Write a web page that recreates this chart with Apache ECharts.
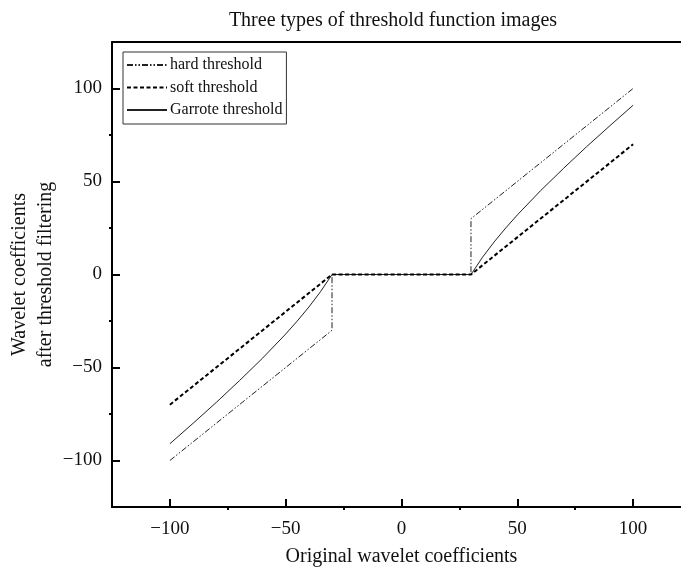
<!DOCTYPE html>
<html>
<head>
<meta charset="utf-8">
<script src="https://cdn.jsdelivr.net/npm/echarts@6/dist/echarts.min.js"></script>
<style>
  html, body { margin: 0; padding: 0; background: #fff; }
  #chart { width: 681px; height: 567px; }
</style>
</head>
<body>
<div id="chart"></div>
<script>
// Threshold functions with threshold 30
const hardX = [-100, -30, -30, 30, 30, 100];
const hardY = [-100, -30, 0, 0, 30, 100];

const softX = [-100, -30, 30, 100];
const softY = [-70, 0, 0, 70];

const garroteX = [-100, -90, -80, -70, -60, -50, -45, -40, -35, -30, 30, 35, 40, 45, 50, 60, 70, 80, 90, 100];
const garroteY = [-91, -80, -68.8, -57.1, -45, -32, -25, -17.5, -9.3, 0, 0, 9.3, 17.5, 25, 32, 45, 57.1, 68.8, 80, 91];

const majorTicks = [-100, -50, 0, 50, 100];
const minorTicks = [-75, -25, 25, 75];

const seriesNames = ['hard threshold', 'soft threshold', 'Garrote threshold'];

const FONT = '"Liberation Serif", "Times New Roman", serif';

function pairs(xs, ys) {
  return xs.map((x, i) => [x, ys[i]]);
}
function fmt(v) {
  return String(v).replace('-', '\u2212');
}

const lineAxis = { show: true, onZero: false, lineStyle: { color: '#000', width: 2 } };

function mainAxis(pos, labelMargin) {
  return {
    type: 'value', position: pos, min: -125, max: 125,
    splitLine: { show: false },
    axisLine: lineAxis,
    axisTick: { show: true, inside: true, length: 8, customValues: majorTicks, lineStyle: { color: '#000', width: 2 } },
    axisLabel: {
      show: true, customValues: majorTicks, formatter: fmt, margin: labelMargin,
      fontFamily: FONT, fontSize: 19, color: '#111'
    }
  };
}
function minorAxis(pos) {
  return {
    type: 'value', position: pos, min: -125, max: 125,
    splitLine: { show: false },
    axisLine: { show: false, onZero: false },
    axisTick: { show: true, inside: false, length: 3, customValues: minorTicks, lineStyle: { color: '#000', width: 2 } },
    axisLabel: { show: false }
  };
}

const chart = echarts.init(document.getElementById('chart'), null, { renderer: 'canvas' });

const xMain = Object.assign(mainAxis('bottom', 13), {
  name: 'Original wavelet coefficients', nameLocation: 'middle', nameGap: 40,
  nameTextStyle: { fontFamily: FONT, fontSize: 20, color: '#111' }
});
const yMain = Object.assign(mainAxis('left', 10), {
  name: 'Wavelet coefficients\nafter threshold filtering', nameLocation: 'middle', nameGap: 53,
  nameRotate: 90, nameMoveOverlap: false,
  nameTextStyle: { fontFamily: FONT, fontSize: 20, color: '#111', lineHeight: 26, align: 'center' }
});

chart.setOption({
  animation: false,
  backgroundColor: '#fff',
  title: {
    text: 'Three types of threshold function images',
    left: 388, top: 6, textAlign: 'center',
    textStyle: { fontFamily: FONT, fontSize: 20, fontWeight: 'normal', color: '#111' }
  },
  legend: {
    data: seriesNames,
    orient: 'vertical',
    left: 123, top: 52,
    padding: [5, 4, 6, 3],
    itemGap: 6.5, itemWidth: 40, itemHeight: 14,
    itemStyle: { opacity: 0 },
    borderColor: '#333', borderWidth: 1,
    textStyle: { fontFamily: FONT, fontSize: 16, color: '#111', padding: [0, 0, 0, -2] }
  },
  grid: { left: 112, right: -10, top: 42, bottom: 60, containLabel: false, outerBoundsMode: 'none' },
  xAxis: [
    xMain,
    minorAxis('bottom'),
    { type: 'value', position: 'top', min: -125, max: 125, splitLine: { show: false },
      axisLine: lineAxis, axisTick: { show: false }, axisLabel: { show: false } }
  ],
  yAxis: [yMain, minorAxis('left')],
  series: [
    {
      name: seriesNames[0], type: 'line', symbol: 'none', data: pairs(hardX, hardY),
      lineStyle: { color: '#222', width: 1, type: [6, 2, 1.5, 2, 1.5, 2] },
      itemStyle: { color: '#222' }, z: 3
    },
    {
      name: seriesNames[1], type: 'line', symbol: 'none', data: pairs(softX, softY),
      lineStyle: { color: '#000', width: 2, type: [4, 2.5] },
      itemStyle: { color: '#000' }, z: 4
    },
    {
      name: seriesNames[2], type: 'line', symbol: 'none', data: pairs(garroteX, garroteY),
      lineStyle: { color: '#222', width: 1 },
      itemStyle: { color: '#222' }, z: 2
    }
  ]
});
</script>
</body>
</html>
